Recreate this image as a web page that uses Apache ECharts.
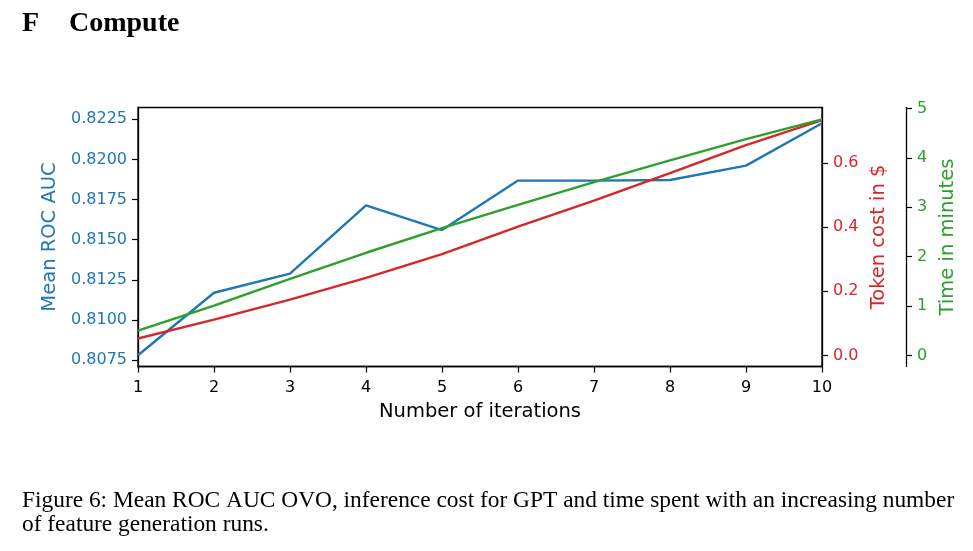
<!DOCTYPE html>
<html>
<head>
<meta charset="utf-8">
<script src="https://cdn.jsdelivr.net/npm/echarts@6/dist/echarts.min.js"></script>
<style>
html,body{margin:0;padding:0;background:#fff;}
#chart{width:973px;height:551px;}
</style>
</head>
<body>
<div id="chart"></div>
<script>
const iterations = [1, 2, 3, 4, 5, 6, 7, 8, 9, 10];
const rocAuc = [0.80781, 0.81170, 0.81289, 0.81714, 0.81560, 0.81868, 0.81868, 0.81872, 0.81961, 0.82225];
const tokenCost = [0.053, 0.112, 0.174, 0.242, 0.316, 0.401, 0.482, 0.568, 0.655, 0.733];
const timeMinutes = [0.505, 1.01, 1.55, 2.08, 2.58, 3.05, 3.51, 3.95, 4.38, 4.78];
const xTicks = [1, 2, 3, 4, 5, 6, 7, 8, 9, 10];
const aucTicks = [0.8075, 0.8100, 0.8125, 0.8150, 0.8175, 0.8200, 0.8225];
const costTicks = [0.0, 0.2, 0.4, 0.6];
const timeTicks = [0, 1, 2, 3, 4, 5];

const BLUE = '#1f77b4', RED = '#d62728', GREEN = '#2ca02c';
const FONT = 'DejaVu Sans';
const pairs = arr => iterations.map((x, i) => [x, arr[i]]);

const chart = echarts.init(document.getElementById('chart'), null, {renderer: 'canvas'});

function yAxisCfg(opts) {
  return {
    type: 'value',
    position: opts.position,
    offset: opts.offset || 0,
    min: opts.min,
    max: opts.max,
    name: opts.name,
    nameLocation: 'middle',
    nameRotate: 90,
    nameGap: opts.nameGap,
    nameTextStyle: {color: opts.color, fontFamily: FONT, fontSize: 19.5},
    axisLine: {show: true, onZero: false, lineStyle: {color: '#000', width: 1.3}},
    axisTick: {show: true, inside: false, length: 6, lineStyle: {color: '#000', width: 1.2}, customValues: opts.ticks},
    axisLabel: {color: opts.color, fontFamily: FONT, fontSize: 16, margin: 11, padding: [3, 0, 0, 0], customValues: opts.ticks, formatter: opts.fmt},
    splitLine: {show: false}
  };
}

const option = {
  animation: false,
  backgroundColor: '#fff',
  grid: {left: 138, right: 151, top: 107.5, bottom: 184.5, show: true, borderColor: '#000', borderWidth: 1.3, backgroundColor: 'transparent'},
  xAxis: {
    type: 'value', min: 1, max: 10, interval: 1,
    name: 'Number of iterations', nameLocation: 'middle', nameGap: 35,
    nameTextStyle: {color: '#000', fontFamily: FONT, fontSize: 19.5},
    axisLine: {show: true, onZero: false, lineStyle: {color: '#000', width: 1.3}},
    axisTick: {show: true, inside: false, length: 6, lineStyle: {color: '#000', width: 1.2}, customValues: xTicks},
    axisLabel: {color: '#000', fontFamily: FONT, fontSize: 16, margin: 13, customValues: xTicks},
    splitLine: {show: false}
  },
  yAxis: [
    yAxisCfg({position: 'left', min: 0.80711, max: 0.82323, name: 'Mean ROC AUC', nameGap: 72, color: BLUE, ticks: aucTicks, fmt: v => v.toFixed(4)}),
    yAxisCfg({position: 'right', min: -0.0342, max: 0.7722, name: 'Token cost in $', nameGap: 38, color: RED, ticks: costTicks, fmt: v => v.toFixed(1)}),
    yAxisCfg({position: 'right', offset: 84, min: -0.222, max: 5.02, name: 'Time in minutes', nameGap: 19, color: GREEN, ticks: timeTicks, fmt: v => String(v)})
  ],
  series: [
    {type: 'line', yAxisIndex: 0, data: pairs(rocAuc), showSymbol: false, lineStyle: {color: BLUE, width: 2.4}, itemStyle: {color: BLUE}},
    {type: 'line', yAxisIndex: 1, data: pairs(tokenCost), showSymbol: false, lineStyle: {color: RED, width: 2.4}, itemStyle: {color: RED}},
    {type: 'line', yAxisIndex: 2, data: pairs(timeMinutes), showSymbol: false, lineStyle: {color: GREEN, width: 2.4}, itemStyle: {color: GREEN}}
  ],
  graphic: [
    {type: 'text', left: 22, top: 10, style: {text: 'F', font: 'bold 28px "Liberation Serif"', fill: '#000'}},
    {type: 'text', left: 69, top: 10, style: {text: 'Compute', font: 'bold 28px "Liberation Serif"', fill: '#000'}},
    {type: 'text', left: 22, top: 489, style: {text: 'Figure 6: Mean ROC AUC OVO, inference cost for GPT and time spent with an increasing number', font: '23.4px "Liberation Serif"', fill: '#000'}},
    {type: 'text', left: 22, top: 513, style: {text: 'of feature generation runs.', font: '23.4px "Liberation Serif"', fill: '#000'}}
  ]
};
chart.setOption(option);
</script>
</body>
</html>
